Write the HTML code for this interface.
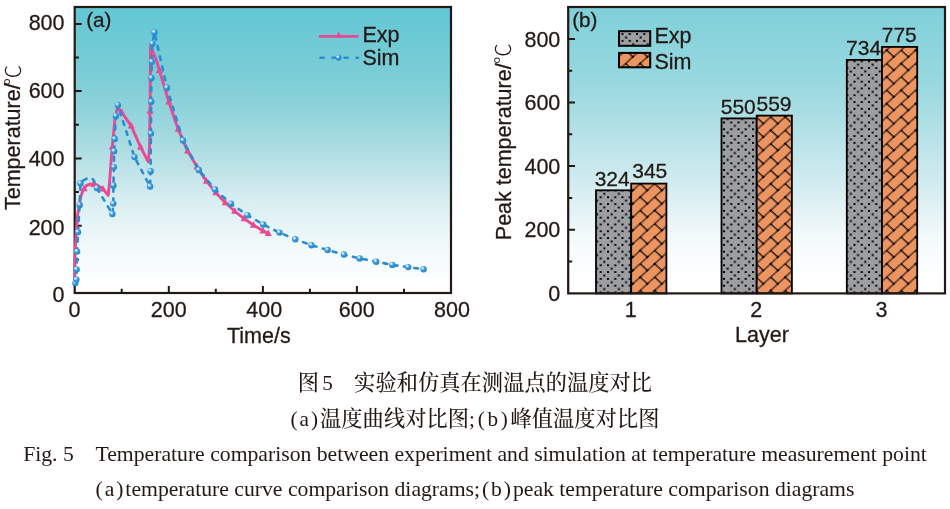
<!DOCTYPE html>
<html lang="zh"><head><meta charset="utf-8"><title>图5 实验和仿真在测温点的温度对比</title>
<style>
html,body{margin:0;padding:0;background:#fff;}
body{width:950px;height:509px;position:relative;overflow:hidden;color:#231815;}
.cap{position:absolute;left:0;width:950px;text-align:center;white-space:nowrap;margin:0;}
.zh{letter-spacing:0.1px;font-family:"Liberation Serif","Noto Serif CJK SC",serif;font-size:21.2px;line-height:30px;font-weight:500;}
.en{font-family:"Liberation Serif","Noto Serif CJK SC",serif;font-size:21.7px;line-height:30px;}
.p{letter-spacing:2px}.q{letter-spacing:2.7px}.r{letter-spacing:1.9px}
</style></head><body>
<svg width="950" height="352" viewBox="0 0 950 352" style="position:absolute;left:0;top:0" font-family="'Liberation Sans', Arial, sans-serif" fill="#231815">
<style>text{stroke:#231815;stroke-width:0.28px;paint-order:stroke fill}</style>
<defs>
<linearGradient id="ga" x1="0" y1="0" x2="0" y2="1">
<stop offset="0.000" stop-color="#64C8D2"/><stop offset="0.030" stop-color="#65C8D5"/><stop offset="0.248" stop-color="#7CCDD6"/><stop offset="0.400" stop-color="#98D6DD"/><stop offset="0.493" stop-color="#ACDDE2"/><stop offset="0.622" stop-color="#CBE8EC"/><stop offset="0.678" stop-color="#D8EFF2"/><stop offset="0.800" stop-color="#ECF6F8"/><stop offset="0.857" stop-color="#F4FAFB"/><stop offset="0.943" stop-color="#FAFDFD"/><stop offset="0.946" stop-color="#FFFFFF"/><stop offset="1.000" stop-color="#FFFFFF"/>
</linearGradient>
<linearGradient id="gb" x1="0" y1="0" x2="0" y2="1">
<stop offset="0.000" stop-color="#7FD0DA"/><stop offset="0.255" stop-color="#98D8DF"/><stop offset="0.423" stop-color="#B2E0E6"/><stop offset="0.633" stop-color="#D5EDF1"/><stop offset="0.762" stop-color="#ECF6F8"/><stop offset="0.804" stop-color="#F3FAFA"/><stop offset="0.850" stop-color="#F8FCFC"/><stop offset="0.925" stop-color="#FBFEFE"/><stop offset="0.930" stop-color="#FFFFFF"/><stop offset="1.000" stop-color="#FFFFFF"/>
</linearGradient>
<radialGradient id="ball" cx="0.36" cy="0.32" r="0.7">
<stop offset="0" stop-color="#FFFFFF"/><stop offset="0.18" stop-color="#BFE2F7"/><stop offset="0.45" stop-color="#3C9BDD"/><stop offset="1" stop-color="#2384CC"/>
</radialGradient>
<pattern id="dots" x="853.5" y="60.3" width="14.5" height="13.6" patternUnits="userSpaceOnUse">
<rect width="14.5" height="13.6" fill="#9C9EA1"/>
<path d="M0 0h2v2h-2zM7.25 0h2v2h-2zM3.6 3.4h2v2h-2zM0 6.8h2v2h-2zM7.25 6.8h2v2h-2zM10.85 10.2h2v2h-2z" fill="#000"/>
</pattern>
<pattern id="brick" width="18.88" height="18.88" patternUnits="userSpaceOnUse" patternTransform="translate(883.57,66.36) scale(1.086,1) rotate(-45)">
<rect width="18.88" height="18.88" fill="#EC9561"/>
<path d="M0 0H18.88M0 9.44H18.88M0 18.88H18.88M4 0V9.44M13.44 9.44V18.88" stroke="#000" stroke-width="1.15" fill="none"/>
<path d="M4 0h0M4 9.44h0M13.44 9.44h0M13.44 18.88h0M13.44 0h0" stroke="#000" stroke-width="2.1" stroke-linecap="square" fill="none"/>
</pattern>
</defs>
<rect x="74.7" y="7.0" width="376.3" height="286.0" fill="url(#ga)"/>
<rect x="74.7" y="7.0" width="376.3" height="286.0" fill="none" stroke="#231815" stroke-width="2.2"/>
<path d="M74.7 259.4h4.2M121.7 293.0v-4.2M74.7 225.7h7.0M168.8 293.0v-7.0M74.7 192.1h4.2M215.8 293.0v-4.2M74.7 158.4h7.0M262.9 293.0v-7.0M74.7 124.8h4.2M309.9 293.0v-4.2M74.7 91.1h7.0M356.9 293.0v-7.0M74.7 57.5h4.2M404.0 293.0v-4.2M74.7 23.9h7.0" stroke="#231815" stroke-width="2" fill="none"/>
<text x="64.5" y="301.5" font-size="21.5" text-anchor="end">0</text>
<text x="74.6" y="316.6" font-size="21.5" text-anchor="middle">0</text>
<text x="64.5" y="235.2" font-size="21.5" text-anchor="end">200</text>
<text x="168.7" y="316.6" font-size="21.5" text-anchor="middle">200</text>
<text x="64.5" y="166.0" font-size="21.5" text-anchor="end">400</text>
<text x="264.2" y="316.6" font-size="21.5" text-anchor="middle">400</text>
<text x="64.5" y="98.3" font-size="21.5" text-anchor="end">600</text>
<text x="356.7" y="316.6" font-size="21.5" text-anchor="middle">600</text>
<text x="64.5" y="29.5" font-size="21.5" text-anchor="end">800</text>
<text x="452.0" y="316.6" font-size="21.5" text-anchor="middle">800</text>
<text x="258.8" y="342.6" font-size="21.5" text-anchor="middle">Time/s</text>
<text transform="translate(20.3,210) rotate(-90)" font-size="21.5">Temperature/<tspan font-family="'Liberation Sans','Noto Sans CJK SC',sans-serif" font-weight="300" font-size="21" stroke-width="0" dx="-2.4" dy="-0.8">℃</tspan></text>
<text x="86.2" y="26.6" font-size="20.7">(a)</text>
<path d="M74.9 278.0 L75.0 255.0 L76.0 235.0 L77.6 215.0 L78.8 208.0 L80.6 197.4 L83.3 189.6 L86.5 185.6 L90.3 183.9 L96.5 184.8 L102.7 188.7 L108.2 195.4 L109.6 182.0 L111.2 159.4 L113.0 140.0 L114.7 121.0 L116.6 110.5 L118.6 108.4 L120.6 110.6 L131.2 125.9 L140.6 147.1 L148.3 161.8 L149.6 146.0 L150.1 100.0 L150.6 46.5 L156.5 60.5 L159.1 69.4 L168.6 101.2 L178.0 128.7 L187.1 150.1 L196.7 166.3 L205.5 179.9 L215.0 191.7 L224.6 202.0 L234.2 210.8 L243.8 218.4 L253.3 225.0 L262.9 230.8 L268.5 233.6" stroke="#E84A93" stroke-width="2.9" fill="none" stroke-linejoin="round" stroke-linecap="butt"/>
<path d="M84.1 184.6 L87.6 191.2 L80.6 191.2 Z" fill="#E84A93"/>
<path d="M93.5 180.3 L97.0 187.0 L90.0 187.0 Z" fill="#E84A93"/>
<path d="M102.9 185.0 L106.4 191.6 L99.4 191.6 Z" fill="#E84A93"/>
<path d="M112.3 143.1 L115.8 149.7 L108.8 149.7 Z" fill="#E84A93"/>
<path d="M121.8 108.2 L125.2 114.9 L118.2 114.9 Z" fill="#E84A93"/>
<path d="M131.2 121.8 L134.7 128.5 L127.7 128.5 Z" fill="#E84A93"/>
<path d="M140.6 143.0 L144.1 149.7 L137.1 149.7 Z" fill="#E84A93"/>
<path d="M150.0 107.0 L153.5 113.7 L146.5 113.7 Z" fill="#E84A93"/>
<path d="M159.4 66.3 L162.9 73.0 L155.9 73.0 Z" fill="#E84A93"/>
<path d="M168.8 97.8 L172.3 104.4 L165.3 104.4 Z" fill="#E84A93"/>
<path d="M178.2 125.2 L181.7 131.8 L174.7 131.8 Z" fill="#E84A93"/>
<path d="M187.6 147.0 L191.1 153.6 L184.1 153.6 Z" fill="#E84A93"/>
<path d="M197.0 162.8 L200.5 169.4 L193.5 169.4 Z" fill="#E84A93"/>
<path d="M206.4 177.0 L209.9 183.7 L202.9 183.7 Z" fill="#E84A93"/>
<path d="M215.9 188.6 L219.4 195.2 L212.4 195.2 Z" fill="#E84A93"/>
<path d="M225.3 198.6 L228.8 205.2 L221.8 205.2 Z" fill="#E84A93"/>
<path d="M234.7 207.1 L238.2 213.8 L231.2 213.8 Z" fill="#E84A93"/>
<path d="M244.1 214.6 L247.6 221.2 L240.6 221.2 Z" fill="#E84A93"/>
<path d="M253.5 221.1 L257.0 227.7 L250.0 227.7 Z" fill="#E84A93"/>
<path d="M262.9 226.8 L266.4 233.4 L259.4 233.4 Z" fill="#E84A93"/>
<path d="M268.3 229.4 L271.8 236.0 L264.8 236.0 Z" fill="#E84A93"/>
<path d="M75.3 283.1 L76.4 279.6 L76.6 269.4 L77.1 251.6 L78.0 232.1 L79.7 204.9 L80.4 183.3 C82.5 180.5 87 177.5 91.2 178 C93.5 178.5 95 183 96.9 188.1 L112.4 214.0 L113.3 203.6 L113.4 185.4 L113.9 167.1 L114.1 151.2 L114.7 139.0 L115.9 115.9 L117.9 105.1 L134.5 157.1 L150.1 186.5 L150.6 171.2 L150.9 133.6 L151.2 101.8 L151.4 78.0 L151.8 61.8 L152.4 43.6 L154.5 32.4 L166.9 87.7 L183.0 140.5 L198.8 170.0 L215.0 189.5 L230.9 203.7 L247.4 215.2 L263.2 224.5 L279.5 232.6 L295.3 239.3 L311.5 245.2 L327.7 250.0 L343.9 254.5 L359.7 258.4 L376.2 261.7 L392.3 264.9 L408.2 267.1 L423.6 269.3" stroke="#2C8CD2" stroke-width="2.6" fill="none" stroke-dasharray="3.8 6.6" stroke-linecap="round"/>
<circle cx="75.3" cy="283.1" r="3.2" fill="url(#ball)"/>
<circle cx="76.4" cy="279.6" r="3.2" fill="url(#ball)"/>
<circle cx="76.6" cy="269.4" r="3.2" fill="url(#ball)"/>
<circle cx="77.1" cy="251.6" r="3.2" fill="url(#ball)"/>
<circle cx="78.0" cy="232.1" r="3.2" fill="url(#ball)"/>
<circle cx="79.7" cy="204.9" r="3.2" fill="url(#ball)"/>
<circle cx="80.4" cy="183.3" r="3.2" fill="url(#ball)"/>
<circle cx="96.9" cy="188.1" r="3.2" fill="url(#ball)"/>
<circle cx="112.4" cy="214.0" r="3.2" fill="url(#ball)"/>
<circle cx="113.3" cy="203.6" r="3.2" fill="url(#ball)"/>
<circle cx="113.4" cy="185.4" r="3.2" fill="url(#ball)"/>
<circle cx="113.9" cy="167.1" r="3.2" fill="url(#ball)"/>
<circle cx="114.1" cy="151.2" r="3.2" fill="url(#ball)"/>
<circle cx="114.7" cy="139.0" r="3.2" fill="url(#ball)"/>
<circle cx="115.9" cy="115.9" r="3.2" fill="url(#ball)"/>
<circle cx="117.9" cy="105.1" r="3.2" fill="url(#ball)"/>
<circle cx="134.5" cy="157.1" r="3.2" fill="url(#ball)"/>
<circle cx="150.1" cy="186.5" r="3.2" fill="url(#ball)"/>
<circle cx="150.6" cy="171.2" r="3.2" fill="url(#ball)"/>
<circle cx="150.9" cy="133.6" r="3.2" fill="url(#ball)"/>
<circle cx="151.2" cy="101.8" r="3.2" fill="url(#ball)"/>
<circle cx="151.4" cy="78.0" r="3.2" fill="url(#ball)"/>
<circle cx="151.8" cy="61.8" r="3.2" fill="url(#ball)"/>
<circle cx="152.4" cy="43.6" r="3.2" fill="url(#ball)"/>
<circle cx="154.5" cy="32.4" r="3.2" fill="url(#ball)"/>
<circle cx="166.9" cy="87.7" r="3.2" fill="url(#ball)"/>
<circle cx="183.0" cy="140.5" r="3.2" fill="url(#ball)"/>
<circle cx="198.8" cy="170.0" r="3.2" fill="url(#ball)"/>
<circle cx="215.0" cy="189.5" r="3.2" fill="url(#ball)"/>
<circle cx="230.9" cy="203.7" r="3.2" fill="url(#ball)"/>
<circle cx="247.4" cy="215.2" r="3.2" fill="url(#ball)"/>
<circle cx="263.2" cy="224.5" r="3.2" fill="url(#ball)"/>
<circle cx="279.5" cy="232.6" r="3.2" fill="url(#ball)"/>
<circle cx="295.3" cy="239.3" r="3.2" fill="url(#ball)"/>
<circle cx="311.5" cy="245.2" r="3.2" fill="url(#ball)"/>
<circle cx="327.7" cy="250.0" r="3.2" fill="url(#ball)"/>
<circle cx="343.9" cy="254.5" r="3.2" fill="url(#ball)"/>
<circle cx="359.7" cy="258.4" r="3.2" fill="url(#ball)"/>
<circle cx="376.2" cy="261.7" r="3.2" fill="url(#ball)"/>
<circle cx="392.3" cy="264.9" r="3.2" fill="url(#ball)"/>
<circle cx="408.2" cy="267.1" r="3.2" fill="url(#ball)"/>
<circle cx="423.6" cy="269.3" r="3.2" fill="url(#ball)"/>
<path d="M319 36.4H358.6" stroke="#E84A93" stroke-width="2.6"/>
<path d="M338.7 31.6 L342.0 37.9 L335.4 37.9 Z" fill="#E84A93"/>
<path d="M320.5 57.7H358" stroke="#2C8CD2" stroke-width="2.4" stroke-dasharray="3.2 8.8" stroke-linecap="round"/>
<circle cx="338.5" cy="57.7" r="3" fill="url(#ball)"/>
<text x="362.5" y="42" font-size="21.5">Exp</text>
<text x="362.5" y="65.4" font-size="21.5">Sim</text>
<rect x="568.2" y="7.0" width="376.8" height="286.4" fill="url(#gb)"/>
<rect x="596.0" y="190.3" width="35.2" height="103.1" fill="url(#dots)" stroke="#000" stroke-width="1.8"/>
<rect x="631.2" y="183.6" width="35.2" height="109.8" fill="url(#brick)" stroke="#000" stroke-width="1.8"/>
<text x="612.2" y="186.3" font-size="21" text-anchor="middle">324</text>
<text x="649.8" y="178.2" font-size="21" text-anchor="middle">345</text>
<rect x="721.5" y="118.4" width="35.2" height="175.0" fill="url(#dots)" stroke="#000" stroke-width="1.8"/>
<rect x="756.7" y="115.6" width="35.2" height="177.8" fill="url(#brick)" stroke="#000" stroke-width="1.8"/>
<text x="738.3" y="113.6" font-size="21" text-anchor="middle">550</text>
<text x="774.0" y="110.7" font-size="21" text-anchor="middle">559</text>
<rect x="846.8" y="59.9" width="35.2" height="233.5" fill="url(#dots)" stroke="#000" stroke-width="1.8"/>
<rect x="882.0" y="46.9" width="35.2" height="246.5" fill="url(#brick)" stroke="#000" stroke-width="1.8"/>
<text x="863.6" y="55.1" font-size="21" text-anchor="middle">734</text>
<text x="899.3" y="42.0" font-size="21" text-anchor="middle">775</text>
<rect x="568.2" y="7.0" width="376.8" height="286.4" fill="none" stroke="#231815" stroke-width="2.2"/>
<path d="M568.2 261.6h4.0M568.2 229.8h6.8M568.2 198.0h4.0M568.2 166.1h6.8M568.2 134.3h4.0M568.2 102.5h6.8M568.2 70.7h4.0M568.2 38.9h6.8" stroke="#231815" stroke-width="2" fill="none"/>
<text x="560.3" y="301.0" font-size="21.5" text-anchor="end">0</text>
<text x="560.3" y="237.4" font-size="21.5" text-anchor="end">200</text>
<text x="560.3" y="173.7" font-size="21.5" text-anchor="end">400</text>
<text x="560.3" y="110.1" font-size="21.5" text-anchor="end">600</text>
<text x="560.3" y="46.5" font-size="21.5" text-anchor="end">800</text>
<text x="630.8" y="316.6" font-size="21.5" text-anchor="middle">1</text>
<text x="756.3" y="316.6" font-size="21.5" text-anchor="middle">2</text>
<text x="881.6" y="316.6" font-size="21.5" text-anchor="middle">3</text>
<text x="762.0" y="342.4" font-size="21.5" text-anchor="middle">Layer</text>
<text transform="translate(510.8,240.2) rotate(-90)" font-size="21.5">Peak temperature/<tspan font-family="'Liberation Sans','Noto Sans CJK SC',sans-serif" font-weight="300" font-size="21" stroke-width="0" dx="-1.0" dy="-0.8">℃</tspan></text>
<text x="572.2" y="26.6" font-size="20.7">(b)</text>
<rect x="619" y="31.2" width="31.2" height="14.6" fill="url(#dots)" stroke="#000" stroke-width="2"/>
<rect x="619" y="52.9" width="31.2" height="14.4" fill="url(#brick)" stroke="#000" stroke-width="2"/>
<text x="654.5" y="43.0" font-size="21.5">Exp</text>
<text x="654.5" y="68.8" font-size="21.5">Sim</text>
</svg>
<p class="cap zh" style="top:368px;left:0px">图<span style="margin-left:3px;font-weight:400">5</span>　实验和仿真在测温点的温度对比</p>
<p class="cap zh" style="top:404px"><span class="p">(a)</span>温度曲线对比图<span class="q">;(b)</span>峰值温度对比图</p>
<p class="cap en" style="top:439px">Fig. 5　Temperature comparison between experiment and simulation at temperature measurement point</p>
<p class="cap en" style="top:473.6px"><span class="r">(a)</span>temperature curve comparison diagrams<span class="r">;(b)</span>peak temperature comparison diagrams</p>
</body></html>
